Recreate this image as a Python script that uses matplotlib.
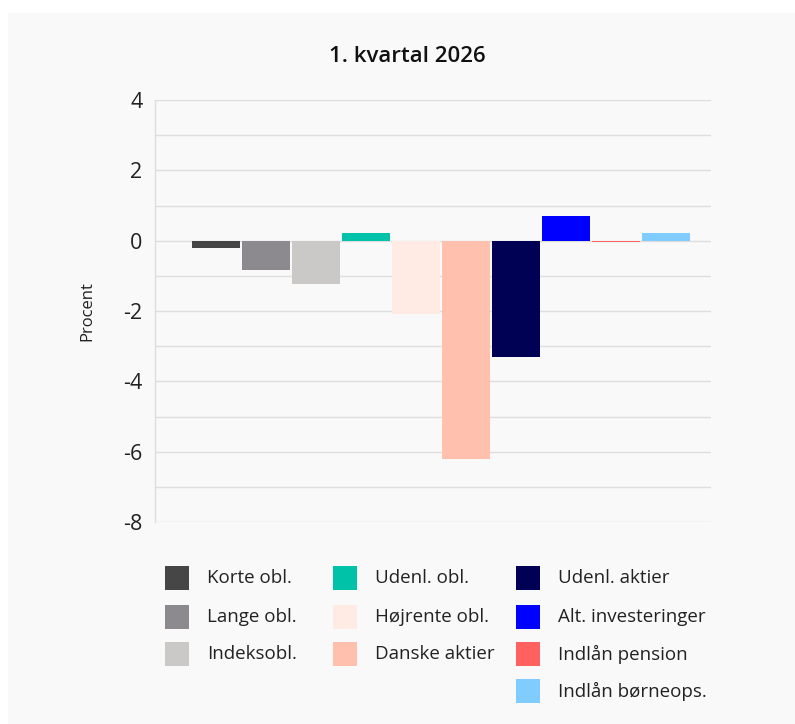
import matplotlib.pyplot as plt
from matplotlib.patches import Rectangle

# Data
categories = [
    "Korte obl.", "Lange obl.", "Indeksobl.", "Udenl. obl.", "Højrente obl.",
    "Danske aktier", "Udenl. aktier", "Alt. investeringer", "Indlån pension",
    "Indlån børneops.",
]
values = [-0.2, -0.82, -1.22, 0.22, -2.08, -6.22, -3.3, 0.7, -0.05, 0.22]
colors = [
    "#464646", "#8c8a8e", "#cac9c7", "#00c2a8", "#ffebe4",
    "#ffc0ad", "#000055", "#0000ff", "#ff6060", "#80ccff",
]
legend_columns = [[0, 1, 2], [3, 4, 5], [6, 7, 8, 9]]
y_ticks = [-8, -6, -4, -2, 0, 2, 4]

W, H = 795, 724
plt.rcParams["font.family"] = ["Open Sans", "DejaVu Sans"]

fig = plt.figure(figsize=(W / 100, H / 100), dpi=100)
fig.patch.set_facecolor("white")
# light grey panel behind everything
fig.patches.append(Rectangle((8 / W, 0), 1 - 8 / W, 1 - 13 / H,
                             transform=fig.transFigure,
                             facecolor="#f9f9f9", edgecolor="none", zorder=-10))

ax = fig.add_axes([155 / W, (H - 522) / H, 556 / W, 422 / H])
ax.set_facecolor("#f9f9f9")

x = list(range(len(values)))
ax.bar(x, values, width=0.96, color=colors, zorder=3)

ax.set_xlim(-1.22, 9.9)
ax.set_ylim(-8, 4)
ax.set_yticks(y_ticks)
ax.set_yticklabels([str(t) for t in y_ticks])
ax.set_yticks(range(-8, 5), minor=True)
ax.grid(axis="y", which="both", color="#dedede", linewidth=1.0, zorder=0)
ax.tick_params(axis="y", which="both", length=0, pad=9,
               labelsize=15.5, labelcolor="#222222")
ax.set_xticks([])
for side in ["top", "right", "bottom"]:
    ax.spines[side].set_visible(False)
ax.spines["left"].set_color("#dedede")
ax.spines["left"].set_linewidth(1.0)
ax.set_ylabel("Procent", fontsize=12, color="#222222", labelpad=20)

fig.text(407 / W, 1 - 57 / H, "1. kvartal 2026", ha="center", va="center",
         fontsize=16, fontweight="semibold", color="#111111")

# legend in three columns
col_x = [165, 333, 516]
row_y = [578, 617, 654, 691]
for c, idxs in enumerate(legend_columns):
    for r, i in enumerate(idxs):
        cy = row_y[r]
        fig.patches.append(Rectangle((col_x[c] / W, 1 - (cy + 12) / H),
                                     24 / W, 24 / H,
                                     transform=fig.transFigure,
                                     facecolor=colors[i], edgecolor="none"))
        fig.text((col_x[c] + 42) / W, 1 - cy / H, categories[i],
                 ha="left", va="center", fontsize=13.5, color="#222222")

fig.savefig("out.png", dpi=100)
